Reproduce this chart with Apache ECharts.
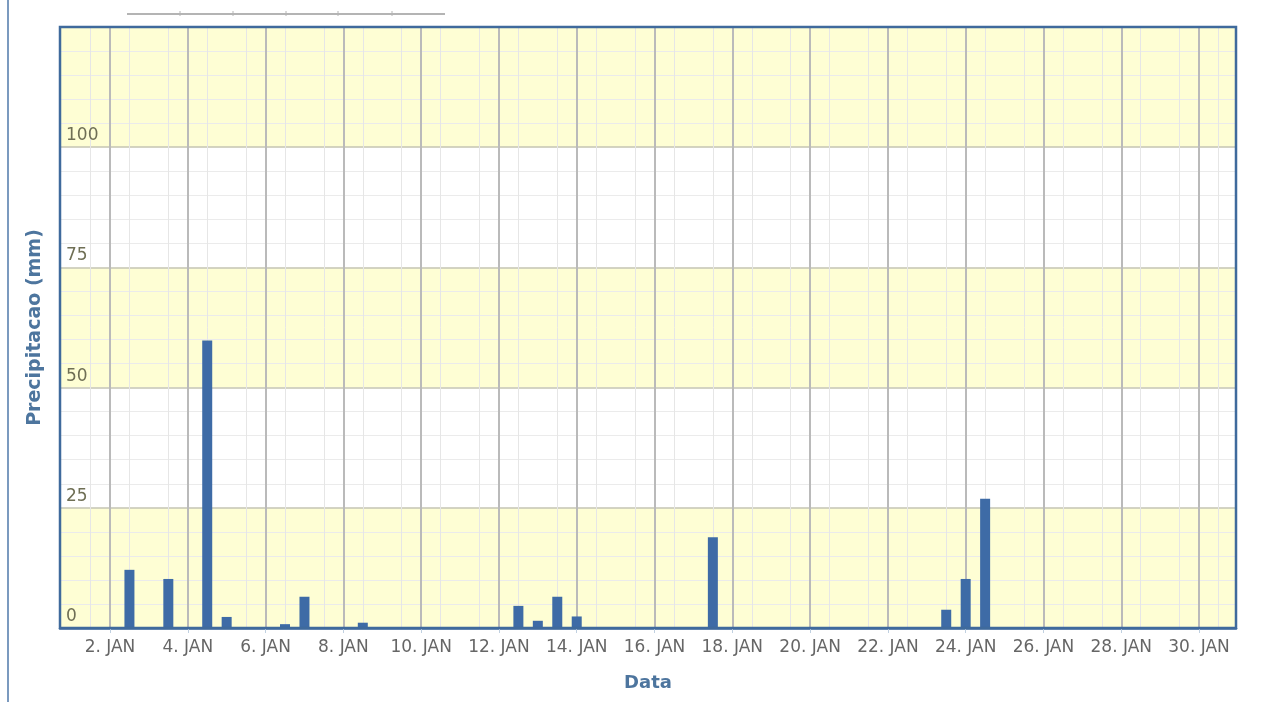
<!DOCTYPE html>
<html>
<head>
<meta charset="utf-8">
<script src="https://cdn.jsdelivr.net/npm/echarts@6/dist/echarts.min.js"></script>
<style>
  html, body { margin: 0; padding: 0; background: #ffffff; }
  #chart { width: 1275px; height: 702px; }
</style>
</head>
<body>
<div id="chart"></div>
<script>
// Day of January (fractional: .5 = midday) of each observation
const obsDay = [2.5, 3.5, 4.5, 5.0, 6.5, 7.0, 8.5, 12.5, 13.0, 13.5, 14.0, 17.5, 23.5, 24.0, 24.5];
// Precipitation in mm
const precipMm = [12.1, 10.2, 59.8, 2.3, 0.8, 6.5, 1.1, 4.6, 1.5, 6.5, 2.4, 18.9, 3.8, 10.2, 26.9];
const monthLabel = 'JAN';
const xTitle = 'Data';
const yTitle = 'Precipitacao (mm)';
const xMin = 0.715, xMax = 30.95;
const yMin = 0, yMax = 125, yStep = 25;

const seriesData = obsDay.map((d, i) => [d, precipMm[i]]);

const chart = echarts.init(document.getElementById('chart'));
chart.setOption({
  animation: false,
  backgroundColor: '#ffffff',
  textStyle: { fontFamily: 'DejaVu Sans' },
  grid: {
    left: 60, top: 27, right: 39, bottom: 74,
    show: true, borderColor: '#3f6a9c', borderWidth: 2.5,
    backgroundColor: 'transparent', z: 10
  },
  xAxis: [{
    type: 'value',
    min: xMin, max: xMax,
    splitNumber: 15,
    name: xTitle,
    nameLocation: 'middle',
    nameGap: 46,
    nameTextStyle: { color: '#4d759e', fontSize: 18, fontWeight: 'bold' },
    axisLine: { show: true, lineStyle: { color: '#3f6a9c', width: 2.5 } },
    axisTick: { show: true, length: 5, lineStyle: { color: '#c0d0e0' } },
    axisLabel: {
      color: '#666666', fontSize: 17, margin: 11,
      showMinLabel: false, showMaxLabel: false,
      formatter: v => (Number.isInteger(v) ? v + '. ' + monthLabel : '')
    },
    splitLine: { show: true, showMinLine: false, showMaxLine: false, lineStyle: { color: '#bababa', width: 2 } },
    z: 3
  }, {
    type: 'value',
    min: xMin + 0.5, max: xMax + 0.5,
    splitNumber: 30,
    position: 'bottom',
    axisLine: { show: false },
    axisTick: { show: false },
    axisLabel: { show: false },
    splitLine: { show: true, showMinLine: false, showMaxLine: false, lineStyle: { color: '#e6e6e6', width: 1 } }
  }],
  yAxis: {
    type: 'value',
    min: yMin, max: yMax, interval: yStep,
    name: yTitle,
    nameLocation: 'middle',
    nameRotate: 90,
    nameGap: 15,
    nameTextStyle: { color: '#4d759e', fontSize: 19, fontWeight: 'bold' },
    axisLine: { show: false },
    axisTick: { show: false },
    axisLabel: {
      inside: true, margin: 6, color: '#6f6f55', fontSize: 17,
      verticalAlign: 'bottom', padding: [0, 0, 3, 0],
      showMaxLabel: false
    },
    splitLine: { show: true, showMinLine: false, showMaxLine: false, lineStyle: { color: '#c4c4b4', width: 1.5 } },
    minorTick: { show: false, splitNumber: 5 },
    minorSplitLine: { show: true, lineStyle: { color: '#ebebeb', width: 1 } },
    splitArea: { show: true, areaStyle: { color: ['#fefed4', '#ffffff'] } }
  },
  series: [{
    type: 'bar',
    xAxisIndex: 0,
    data: seriesData,
    barWidth: 10,
    itemStyle: { color: '#3e6ba6' },
    z: 5
  }],
  graphic: [
    { type: 'line', shape: { x1: 8, y1: 0, x2: 8, y2: 702 }, style: { stroke: '#4f78aa', lineWidth: 1.5 } },
    { type: 'line', shape: { x1: 127, y1: 14, x2: 445, y2: 14 }, style: { stroke: '#b4b4b4', lineWidth: 2 } },
    { type: 'line', shape: { x1: 180, y1: 11, x2: 180, y2: 16 }, style: { stroke: '#b4b4b4', lineWidth: 1 } },
    { type: 'line', shape: { x1: 233, y1: 11, x2: 233, y2: 16 }, style: { stroke: '#b4b4b4', lineWidth: 1 } },
    { type: 'line', shape: { x1: 286, y1: 11, x2: 286, y2: 16 }, style: { stroke: '#b4b4b4', lineWidth: 1 } },
    { type: 'line', shape: { x1: 338, y1: 11, x2: 338, y2: 16 }, style: { stroke: '#b4b4b4', lineWidth: 1 } },
    { type: 'line', shape: { x1: 392, y1: 11, x2: 392, y2: 16 }, style: { stroke: '#b4b4b4', lineWidth: 1 } }
  ]
});
</script>
</body>
</html>
